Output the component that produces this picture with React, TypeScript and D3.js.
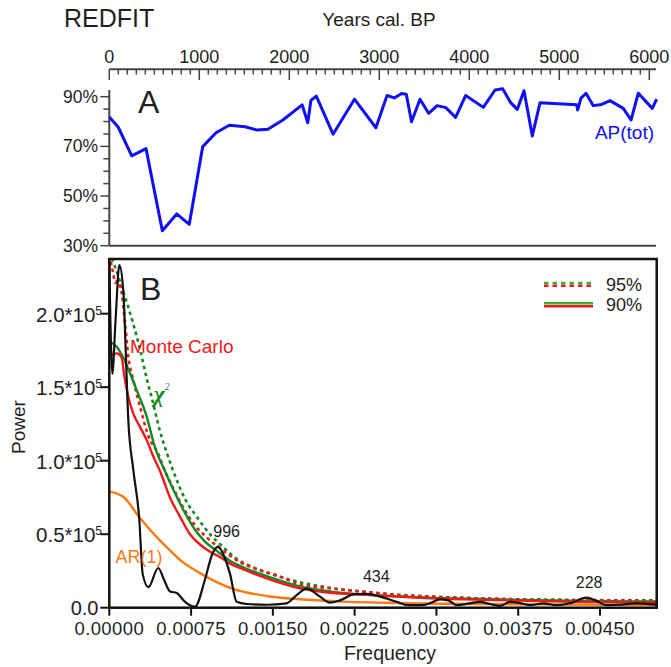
import React from 'react';
import * as d3 from 'd3';

const FONT = '"Liberation Sans", Arial, sans-serif';
const INK = '#1e1e1e';

// Panel A: AP(tot) pollen percentages vs. age
const apYears = [0, 100, 249, 408, 589, 749, 889, 1038, 1186, 1333, 1508, 1638, 1762, 1929, 2143, 2205, 2240, 2300, 2486, 2724, 2962, 3086, 3167, 3248, 3300, 3358, 3452, 3548, 3643, 3739, 3848, 3960, 4156, 4286, 4371, 4460, 4533, 4608, 4700, 4786, 5193, 5204, 5241, 5297, 5378, 5471, 5563, 5711, 5797, 5878, 6033, 6082];
const apValues = [81.8, 77.7, 66.2, 69.1, 36.0, 42.8, 38.6, 69.9, 75.5, 78.5, 77.9, 76.6, 76.9, 80.6, 86.7, 79.5, 88.5, 90.2, 74.9, 89.0, 77.5, 90.5, 89.5, 91.3, 91.0, 79.9, 89.0, 83.3, 86.4, 85.6, 81.7, 90.5, 85.7, 92.7, 93.2, 87.6, 84.9, 92.4, 74.2, 87.6, 86.8, 84.7, 89.4, 91.4, 86.4, 86.9, 88.4, 85.3, 80.6, 91.4, 85.3, 89.0];
const yearTicks = [0, 1000, 2000, 3000, 4000, 5000, 6000];
const apTickLabels = [90, 70, 50, 30];

// Panel B: REDFIT spectrum (frequency in 1/yr, power)
const specFreq = [0, 0.275e-4, 0.57e-4, 0.92e-4, 1.28e-4, 1.53e-4, 1.74e-4, 2.2e-4, 2.75e-4, 3.06e-4, 3.58e-4, 4.49e-4, 5.02e-4, 5.57e-4, 6.18e-4, 6.94e-4, 7.86e-4, 8.77e-4, 9.42e-4, 9.99e-4, 10.52e-4, 11.07e-4, 11.68e-4, 12.6e-4, 14.43e-4, 16.26e-4, 17.18e-4, 18.1e-4, 19.32e-4, 20.24e-4, 21.15e-4, 22.53e-4, 23.6e-4, 24.82e-4, 26.35e-4, 27.41e-4, 28.64e-4, 29.4e-4, 30.32e-4, 31.08e-4, 31.85e-4, 33.07e-4, 33.99e-4, 34.9e-4, 35.82e-4, 36.74e-4, 37.5e-4, 38.57e-4, 39.79e-4, 41.02e-4, 42.24e-4, 43.77e-4, 44.69e-4, 45.6e-4, 46.82e-4, 48.2e-4, 50.19e-4];
const specPower = [2.36e5, 1.59e5, 1.95e5, 2.33e5, 2.16e5, 1.7e5, 1.28e5, 0.94e5, 0.6e5, 0.23e5, 0.14e5, 0.27e5, 0.19e5, 0.11e5, 0.1e5, 0.04e5, 0.007e5, 0.19e5, 0.36e5, 0.415e5, 0.35e5, 0.23e5, 0.04e5, 0.025e5, 0.02e5, 0.03e5, 0.086e5, 0.13e5, 0.075e5, 0.034e5, 0.05e5, 0.093e5, 0.094e5, 0.075e5, 0.04e5, 0.017e5, 0.017e5, 0.03e5, 0.057e5, 0.05e5, 0.017e5, 0.03e5, 0.04e5, 0.025e5, 0.012e5, 0.04e5, 0.035e5, 0.017e5, 0.03e5, 0.017e5, 0.03e5, 0.068e5, 0.045e5, 0.017e5, 0.02e5, 0.03e5, 0.02e5];

const ar1Freq = [0, 1.28e-4, 2.81e-4, 4.35e-4, 5.57e-4, 6.48e-4, 8.32e-4, 11.34e-4, 14.43e-4, 20.5e-4, 26.65e-4, 35.8e-4, 50.2e-4];
const ar1Power = [0.79e5, 0.755e5, 0.61e5, 0.48e5, 0.39e5, 0.325e5, 0.235e5, 0.128e5, 0.08e5, 0.045e5, 0.032e5, 0.024e5, 0.018e5];

const chi90Freq = [0, 0.68e-4, 1.28e-4, 1.9e-4, 2.51e-4, 3.43e-4, 4.19e-4, 5.1e-4, 6.02e-4, 6.94e-4, 7.86e-4, 8.77e-4, 9.97e-4, 11.07e-4, 12.44e-4, 14.43e-4, 17.48e-4, 20.51e-4, 26.65e-4, 35.82e-4, 50.19e-4];
const chi90Power = [1.81e5, 1.775e5, 1.7e5, 1.595e5, 1.48e5, 1.3e5, 1.09e5, 0.93e5, 0.78e5, 0.645e5, 0.53e5, 0.45e5, 0.38e5, 0.32e5, 0.27e5, 0.215e5, 0.145e5, 0.108e5, 0.077e5, 0.056e5, 0.042e5];

const mc90Freq = [0, 0.25e-4, 0.68e-4, 1.14e-4, 1.35e-4, 1.74e-4, 2.2e-4, 2.81e-4, 3.43e-4, 4.03e-4, 4.65e-4, 5.56e-4, 6.48e-4, 7.4e-4, 8.32e-4, 9.24e-4, 10.15e-4, 11.07e-4, 11.98e-4, 14.43e-4, 17.48e-4, 20.51e-4, 23.26e-4, 26.38e-4, 29.4e-4, 35.55e-4, 41.59e-4, 50.19e-4];
const mc90Power = [1.85e5, 1.72e5, 1.73e5, 1.7e5, 1.59e5, 1.435e5, 1.32e5, 1.23e5, 1.14e5, 1.03e5, 0.93e5, 0.75e5, 0.62e5, 0.5e5, 0.43e5, 0.38e5, 0.345e5, 0.3e5, 0.27e5, 0.2e5, 0.132e5, 0.1e5, 0.09e5, 0.075e5, 0.064e5, 0.052e5, 0.041e5, 0.034e5];

const chi95Freq = [0, 0.52e-4, 1.44e-4, 2.2e-4, 2.81e-4, 3.46e-4, 3.92e-4, 4.65e-4, 5.29e-4, 6.02e-4, 6.94e-4, 8.01e-4, 9.23e-4, 10.33e-4, 11.37e-4, 13.82e-4, 15.65e-4, 20.24e-4, 23.26e-4, 26.38e-4, 29.4e-4, 35.55e-4, 41.59e-4, 50.19e-4];
const chi95Power = [2.42e5, 2.32e5, 2.115e5, 1.93e5, 1.76e5, 1.55e5, 1.42e5, 1.2e5, 1.05e5, 0.9e5, 0.74e5, 0.62e5, 0.5e5, 0.42e5, 0.35e5, 0.256e5, 0.21e5, 0.135e5, 0.11e5, 0.088e5, 0.076e5, 0.06e5, 0.053e5, 0.05e5];

const mc95Freq = [0, 0.37e-4, 0.52e-4, 0.71e-4, 1.14e-4, 1.45e-4, 1.74e-4, 2.2e-4, 2.81e-4, 3.58e-4, 4.47e-4, 5.11e-4, 6.02e-4, 6.94e-4, 7.86e-4, 8.77e-4, 9.69e-4, 10.76e-4, 11.98e-4, 13.2e-4, 15.35e-4, 17.48e-4, 20.24e-4, 23.26e-4, 26.38e-4, 29.4e-4, 35.55e-4, 41.59e-4, 50.19e-4];
const mc95Power = [2.4e5, 2.27e5, 2.21e5, 2.22e5, 2.14e5, 1.93e5, 1.71e5, 1.55e5, 1.37e5, 1.17e5, 1.05e5, 0.93e5, 0.79e5, 0.66e5, 0.56e5, 0.49e5, 0.43e5, 0.37e5, 0.31e5, 0.27e5, 0.22e5, 0.16e5, 0.132e5, 0.109e5, 0.088e5, 0.076e5, 0.06e5, 0.053e5, 0.049e5];

const freqTicks = [0, 0.00075, 0.0015, 0.00225, 0.003, 0.00375, 0.0045];
const powerTicks = [0, 0.5e5, 1.0e5, 1.5e5, 2.0e5];

// period labels of the main peaks, placed above each peak
const peakLabels = [
  { f: 10.76e-4, p: 0.483e5, text: '996' },
  { f: 24.48e-4, p: 0.177e5, text: '434' },
  { f: 44.0e-4, p: 0.132e5, text: '228' },
];

const RED = '#f01818';
const GREEN = '#128a22';
const ORANGE = '#fb7a12';
const BLUE = '#1010f5';

const App: React.FC = () => {
  const xA = d3.scaleLinear().domain([0, 6000]).range([109.3, 649.3]);
  const yA = d3.scaleLinear().domain([30, 90]).range([245.7, 96.7]);
  const xB = d3.scaleLinear().domain([0, 0.0045]).range([109.3, 600]);
  const yB = d3.scaleLinear().domain([0, 2e5]).range([607.7, 313.7]);

  const apLine = d3
    .line<number>()
    .x((_, i) => xA(apYears[i]))
    .y((d) => yA(d))(apValues);

  const spec = (f: number[], p: number[]) =>
    d3
      .line<number>()
      .x((_, i) => xB(f[i]))
      .y((d) => yB(d))
      .curve(d3.curveMonotoneX)(p) as string;

  const frameL = 109.3;
  const frameR = 656.7;
  const frameT = 259;
  const frameB = 607.7;

  const minorYears = d3.range(0, 6001, 100);
  const minorAp = d3.range(30, 91, 5);

  return (
    <svg
      width={671}
      height={667}
      style={{ position: 'absolute', left: 0, top: 0, background: '#fff' }}
      fontFamily={FONT}
    >
      <rect width={671} height={667} fill='#fff' />
      <text x={64} y={27} fontSize={25} fill={INK}>
        REDFIT
      </text>
      <text x={379} y={26} fontSize={19} fill={INK} textAnchor='middle'>
        Years cal. BP
      </text>

      {/* top age axis */}
      <g stroke='#444' strokeWidth={1.5}>
        <line x1={xA(0)} x2={656} y1={69.3} y2={69.3} strokeWidth={2} />
        {minorYears.map((d) => (
          <line key={d} x1={xA(d)} x2={xA(d)} y1={69.3} y2={d % 1000 === 0 ? 80 : 74.5} />
        ))}
      </g>
      {yearTicks.map((d) => (
        <text key={d} x={xA(d)} y={62.5} fontSize={18} fill={INK} textAnchor='middle'>
          {d}
        </text>
      ))}

      {/* panel A */}
      <g stroke='#444' strokeWidth={1.5}>
        <line x1={xA(0)} x2={xA(0)} y1={90} y2={yA(30)} strokeWidth={2} />
        <line x1={xA(0)} x2={656} y1={yA(30)} y2={yA(30)} strokeWidth={2} />
        {minorAp.map((d) => (
          <line key={d} x1={xA(0) - (d % 20 === 10 ? 9 : 6)} x2={xA(0)} y1={yA(d)} y2={yA(d)} />
        ))}
      </g>
      {apTickLabels.map((d) => (
        <text key={d} x={98} y={yA(d) + 6} fontSize={17.5} fill={INK} textAnchor='end'>
          {d}%
        </text>
      ))}
      <text x={138} y={113} fontSize={32} fill='#222'>
        A
      </text>
      <path d={apLine ?? ''} fill='none' stroke={BLUE} strokeWidth={3} strokeLinejoin='round' />
      <text x={654} y={139} fontSize={19} fill={BLUE} textAnchor='end'>
        AP(tot)
      </text>

      {/* panel B */}
      <defs>
        <clipPath id='clipB'>
          <rect x={frameL} y={frameT} width={frameR - frameL} height={frameB - frameT} />
        </clipPath>
      </defs>
      <g clipPath='url(#clipB)' fill='none' strokeLinejoin='round'>
        <path d={spec(chi95Freq, chi95Power)} stroke={GREEN} strokeWidth={2.6} strokeDasharray='3.5 3.5' />
        <path d={spec(mc95Freq, mc95Power)} stroke={RED} strokeWidth={2.6} strokeDasharray='3.5 3.5' />
        <path d={spec(ar1Freq, ar1Power)} stroke={ORANGE} strokeWidth={2.4} />
        <path d={spec(chi90Freq, chi90Power)} stroke={GREEN} strokeWidth={2.4} />
        <path d={spec(mc90Freq, mc90Power)} stroke={RED} strokeWidth={2.4} />
        <path d={spec(specFreq, specPower)} stroke='#111' strokeWidth={2.2} />
      </g>
      <rect
        x={frameL}
        y={frameT}
        width={frameR - frameL}
        height={frameB - frameT}
        fill='none'
        stroke='#111'
        strokeWidth={2.5}
      />
      <g stroke='#111' strokeWidth={2}>
        {freqTicks.map((d) => (
          <line key={d} x1={xB(d)} x2={xB(d)} y1={frameB} y2={frameB + 8} />
        ))}
        {powerTicks.map((d) => (
          <line key={d} x1={frameL - 9} x2={frameL} y1={yB(d)} y2={yB(d)} />
        ))}
      </g>
      {freqTicks.map((d) => (
        <text key={d} x={xB(d)} y={635} fontSize={18.5} fill={INK} textAnchor='middle' letterSpacing={0.4}>
          {d.toFixed(5)}
        </text>
      ))}
      {powerTicks.map((d) =>
        d === 0 ? (
          <text key={d} x={98.5} y={yB(d) + 7} fontSize={20} fill={INK} textAnchor='end'>
            0.0
          </text>
        ) : (
          <text key={d} x={102} y={yB(d) + 8} fontSize={20.5} fill={INK} textAnchor='end'>
            {(d / 1e5).toFixed(1)}*10
            <tspan dy={-7} fontSize={12}>
              5
            </tspan>
          </text>
        )
      )}
      <text x={390} y={660} fontSize={19.5} fill={INK} textAnchor='middle'>
        Frequency
      </text>
      <text transform='translate(25,427) rotate(-90)' fontSize={19} fill={INK} textAnchor='middle'>
        Power
      </text>
      <text x={140} y={300} fontSize={32} fill='#222'>
        B
      </text>

      {peakLabels.map((d) => (
        <text key={d.text} x={xB(d.f)} y={yB(d.p)} fontSize={16} fill={INK} textAnchor='middle'>
          {d.text}
        </text>
      ))}

      <text x={130} y={353} fontSize={19} fill={RED}>
        Monte Carlo
      </text>
      <text x={154} y={402} fontSize={23} fill={GREEN} fontStyle='italic' fontWeight='bold' fontFamily='"Liberation Serif", serif'>
        χ
        <tspan dy={-12} fontSize={10} fontWeight='normal'>
          2
        </tspan>
      </text>
      <text x={115.5} y={563} fontSize={18} fill={ORANGE}>
        AR(1)
      </text>

      {/* legend */}
      <g strokeWidth={2.4}>
        <line x1={544} x2={593} y1={283} y2={283} stroke='#2fb52f' strokeDasharray='4.5 4' />
        <line x1={544} x2={593} y1={285.8} y2={285.8} stroke={RED} strokeDasharray='4.5 4' />
        <line x1={544} x2={593} y1={303.3} y2={303.3} stroke='#2fb52f' />
        <line x1={544} x2={593} y1={306.2} y2={306.2} stroke={RED} />
      </g>
      <text x={606} y={291} fontSize={18} fill={INK}>
        95%
      </text>
      <text x={606} y={311} fontSize={18} fill={INK}>
        90%
      </text>
    </svg>
  );
};

export default App;
